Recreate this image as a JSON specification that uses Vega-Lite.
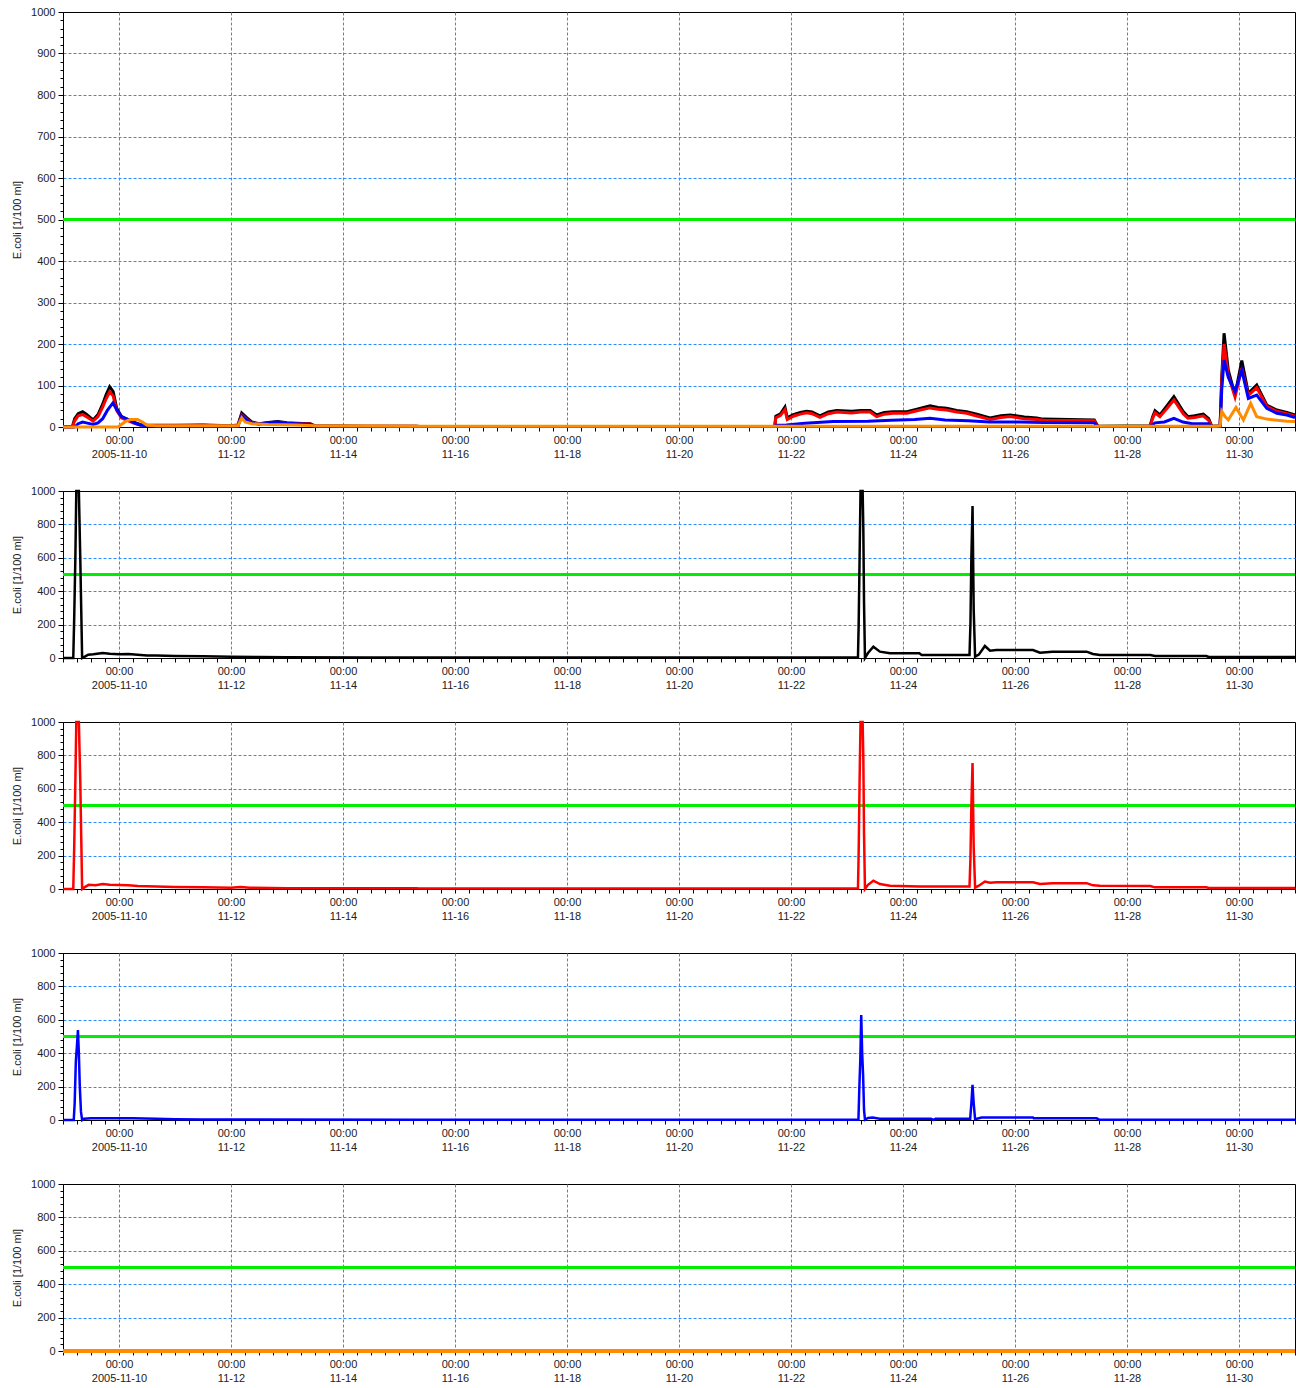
{
"$schema": "https://vega.github.io/schema/vega-lite/v6.json",
"padding": {"left": 11, "top": 5, "right": 0, "bottom": 0},
"spacing": 24,
"config": {
  "view": {"stroke": "#000000", "strokeWidth": 1}
},
"datasets": {
"lim": [{"y": 500}],
"p1": [
{"h":0,"s":"A","v":1},{"h":4,"s":"A","v":1},{"h":5,"s":"A","v":20},{"h":6.5,"s":"A","v":32},{"h":8.4,"s":"A","v":37},{"h":10,"s":"A","v":31},{"h":12.9,"s":"A","v":17},{"h":15,"s":"A","v":30},{"h":17,"s":"A","v":55},{"h":18.5,"s":"A","v":78},{"h":20,"s":"A","v":97},{"h":21.5,"s":"A","v":85},{"h":23,"s":"A","v":45},{"h":25,"s":"A","v":26},{"h":27,"s":"A","v":20},{"h":30,"s":"A","v":12},{"h":33,"s":"A","v":6},{"h":36,"s":"A","v":5},{"h":48,"s":"A","v":4},{"h":60,"s":"A","v":5},{"h":72,"s":"A","v":3},{"h":75,"s":"A","v":5},{"h":76.6,"s":"A","v":34},{"h":78.5,"s":"A","v":24},{"h":81,"s":"A","v":12},{"h":84,"s":"A","v":8},{"h":88,"s":"A","v":11},{"h":92,"s":"A","v":13},{"h":96,"s":"A","v":10},{"h":100,"s":"A","v":9},{"h":106,"s":"A","v":8},{"h":108,"s":"A","v":3},{"h":130,"s":"A","v":2},{"h":151.3,"s":"A","v":2},{"h":152.8,"s":"A","v":1},{"h":200,"s":"A","v":1},{"h":260,"s":"A","v":1},{"h":305,"s":"A","v":1},{"h":305.5,"s":"A","v":26},{"h":307.5,"s":"A","v":32},{"h":309.4,"s":"A","v":48},{"h":310.4,"s":"A","v":22},{"h":313,"s":"A","v":30},{"h":316,"s":"A","v":35},{"h":318.7,"s":"A","v":38},{"h":321,"s":"A","v":36},{"h":324.4,"s":"A","v":27},{"h":328,"s":"A","v":36},{"h":331.6,"s":"A","v":40},{"h":338,"s":"A","v":38},{"h":342,"s":"A","v":40},{"h":345.9,"s":"A","v":40},{"h":348.7,"s":"A","v":29},{"h":352,"s":"A","v":35},{"h":355.7,"s":"A","v":37},{"h":361.7,"s":"A","v":37},{"h":366,"s":"A","v":43},{"h":371.6,"s":"A","v":51},{"h":375,"s":"A","v":47},{"h":378.7,"s":"A","v":45},{"h":383,"s":"A","v":40},{"h":387.3,"s":"A","v":37},{"h":392,"s":"A","v":30},{"h":397.3,"s":"A","v":22},{"h":402,"s":"A","v":27},{"h":405.9,"s":"A","v":29},{"h":412,"s":"A","v":24},{"h":417.3,"s":"A","v":22},{"h":420,"s":"A","v":19},{"h":442,"s":"A","v":17},{"h":443.5,"s":"A","v":2},{"h":465.9,"s":"A","v":3},{"h":467,"s":"A","v":25},{"h":468,"s":"A","v":39},{"h":470.1,"s":"A","v":29},{"h":473,"s":"A","v":50},{"h":476.1,"s":"A","v":73},{"h":480.1,"s":"A","v":37},{"h":482.1,"s":"A","v":25},{"h":485,"s":"A","v":27},{"h":488.7,"s":"A","v":31},{"h":491,"s":"A","v":20},{"h":492.3,"s":"A","v":2},{"h":495.9,"s":"A","v":3},{"h":496.6,"s":"A","v":120},{"h":497.6,"s":"A","v":226},{"h":499.4,"s":"A","v":137},{"h":502.3,"s":"A","v":77},{"h":505.2,"s":"A","v":160},{"h":508,"s":"A","v":81},{"h":511.6,"s":"A","v":101},{"h":515.9,"s":"A","v":53},{"h":520.2,"s":"A","v":41},{"h":524.5,"s":"A","v":35},{"h":528,"s":"A","v":29},
{"h":0,"s":"B","v":0},{"h":4,"s":"B","v":0},{"h":5,"s":"B","v":15},{"h":6.5,"s":"B","v":27},{"h":8.4,"s":"B","v":30},{"h":10,"s":"B","v":25},{"h":12.9,"s":"B","v":14},{"h":15,"s":"B","v":25},{"h":17,"s":"B","v":48},{"h":18.5,"s":"B","v":68},{"h":20,"s":"B","v":85},{"h":21.5,"s":"B","v":75},{"h":23,"s":"B","v":40},{"h":25,"s":"B","v":22},{"h":27,"s":"B","v":17},{"h":30,"s":"B","v":10},{"h":33,"s":"B","v":5},{"h":36,"s":"B","v":4},{"h":48,"s":"B","v":3},{"h":60,"s":"B","v":4},{"h":72,"s":"B","v":2},{"h":75,"s":"B","v":4},{"h":76.6,"s":"B","v":29},{"h":78.5,"s":"B","v":20},{"h":81,"s":"B","v":10},{"h":84,"s":"B","v":7},{"h":88,"s":"B","v":9},{"h":92,"s":"B","v":11},{"h":96,"s":"B","v":9},{"h":100,"s":"B","v":8},{"h":106,"s":"B","v":7},{"h":108,"s":"B","v":2},{"h":130,"s":"B","v":2},{"h":151.3,"s":"B","v":2},{"h":152.8,"s":"B","v":1},{"h":305,"s":"B","v":1},{"h":305.5,"s":"B","v":22},{"h":307.5,"s":"B","v":28},{"h":309.4,"s":"B","v":42},{"h":310.4,"s":"B","v":18},{"h":313,"s":"B","v":26},{"h":316,"s":"B","v":31},{"h":318.7,"s":"B","v":34},{"h":321,"s":"B","v":32},{"h":324.4,"s":"B","v":23},{"h":328,"s":"B","v":32},{"h":331.6,"s":"B","v":36},{"h":338,"s":"B","v":34},{"h":342,"s":"B","v":36},{"h":345.9,"s":"B","v":36},{"h":348.7,"s":"B","v":25},{"h":352,"s":"B","v":31},{"h":355.7,"s":"B","v":33},{"h":361.7,"s":"B","v":33},{"h":366,"s":"B","v":39},{"h":371.6,"s":"B","v":46},{"h":375,"s":"B","v":43},{"h":378.7,"s":"B","v":41},{"h":383,"s":"B","v":36},{"h":387.3,"s":"B","v":33},{"h":392,"s":"B","v":26},{"h":397.3,"s":"B","v":18},{"h":402,"s":"B","v":23},{"h":405.9,"s":"B","v":25},{"h":412,"s":"B","v":20},{"h":417.3,"s":"B","v":18},{"h":420,"s":"B","v":16},{"h":442,"s":"B","v":15},{"h":443.5,"s":"B","v":1},{"h":465.9,"s":"B","v":1},{"h":467,"s":"B","v":21},{"h":468,"s":"B","v":34},{"h":470.1,"s":"B","v":25},{"h":473,"s":"B","v":44},{"h":476.1,"s":"B","v":65},{"h":480.1,"s":"B","v":32},{"h":482.1,"s":"B","v":21},{"h":485,"s":"B","v":23},{"h":488.7,"s":"B","v":27},{"h":491,"s":"B","v":16},{"h":492.3,"s":"B","v":1},{"h":495.9,"s":"B","v":2},{"h":496.6,"s":"B","v":110},{"h":497.6,"s":"B","v":200},{"h":499.4,"s":"B","v":125},{"h":502.3,"s":"B","v":72},{"h":505.2,"s":"B","v":142},{"h":508,"s":"B","v":76},{"h":511.6,"s":"B","v":95},{"h":515.9,"s":"B","v":50},{"h":520.2,"s":"B","v":38},{"h":524.5,"s":"B","v":32},{"h":528,"s":"B","v":26},
{"h":0,"s":"C","v":0},{"h":5,"s":"C","v":0},{"h":6.5,"s":"C","v":8},{"h":8.4,"s":"C","v":12},{"h":10,"s":"C","v":10},{"h":12.9,"s":"C","v":6},{"h":15,"s":"C","v":10},{"h":17,"s":"C","v":20},{"h":19,"s":"C","v":40},{"h":21.4,"s":"C","v":58},{"h":23,"s":"C","v":42},{"h":25,"s":"C","v":25},{"h":27,"s":"C","v":20},{"h":29,"s":"C","v":15},{"h":31,"s":"C","v":9},{"h":33,"s":"C","v":5},{"h":36,"s":"C","v":3},{"h":48,"s":"C","v":2},{"h":72,"s":"C","v":2},{"h":75,"s":"C","v":3},{"h":76.6,"s":"C","v":27},{"h":78.5,"s":"C","v":18},{"h":81,"s":"C","v":9},{"h":84,"s":"C","v":7},{"h":88,"s":"C","v":10},{"h":92,"s":"C","v":12},{"h":96,"s":"C","v":9},{"h":100,"s":"C","v":8},{"h":106,"s":"C","v":6},{"h":108,"s":"C","v":2},{"h":151.3,"s":"C","v":1},{"h":152.8,"s":"C","v":1},{"h":305,"s":"C","v":1},{"h":305.5,"s":"C","v":4},{"h":310,"s":"C","v":5},{"h":318,"s":"C","v":9},{"h":330,"s":"C","v":13},{"h":345,"s":"C","v":14},{"h":355,"s":"C","v":16},{"h":365,"s":"C","v":18},{"h":371.6,"s":"C","v":21},{"h":378,"s":"C","v":17},{"h":388,"s":"C","v":15},{"h":397,"s":"C","v":12},{"h":410,"s":"C","v":12},{"h":420,"s":"C","v":11},{"h":442,"s":"C","v":10},{"h":443.5,"s":"C","v":1},{"h":465.9,"s":"C","v":1},{"h":468,"s":"C","v":10},{"h":472,"s":"C","v":12},{"h":476.1,"s":"C","v":21},{"h":480,"s":"C","v":12},{"h":484,"s":"C","v":8},{"h":491,"s":"C","v":8},{"h":492.3,"s":"C","v":1},{"h":495.9,"s":"C","v":1},{"h":496.6,"s":"C","v":90},{"h":497.6,"s":"C","v":161},{"h":499.4,"s":"C","v":120},{"h":502.3,"s":"C","v":85},{"h":505.2,"s":"C","v":137},{"h":508,"s":"C","v":69},{"h":511.6,"s":"C","v":77},{"h":515.9,"s":"C","v":45},{"h":520.2,"s":"C","v":33},{"h":524.5,"s":"C","v":29},{"h":528,"s":"C","v":23},
{"h":0,"s":"D","v":0},{"h":23.6,"s":"D","v":0},{"h":25,"s":"D","v":6},{"h":27,"s":"D","v":14},{"h":29,"s":"D","v":18},{"h":32,"s":"D","v":18},{"h":34,"s":"D","v":12},{"h":36,"s":"D","v":4},{"h":40,"s":"D","v":3},{"h":75,"s":"D","v":3},{"h":76.6,"s":"D","v":22},{"h":78,"s":"D","v":12},{"h":81,"s":"D","v":8},{"h":88,"s":"D","v":6},{"h":100,"s":"D","v":5},{"h":108,"s":"D","v":3},{"h":151.3,"s":"D","v":2},{"h":152.8,"s":"D","v":2},{"h":494,"s":"D","v":2},{"h":495.9,"s":"D","v":3},{"h":496.6,"s":"D","v":38},{"h":498,"s":"D","v":25},{"h":499.4,"s":"D","v":17},{"h":502.7,"s":"D","v":47},{"h":505.9,"s":"D","v":17},{"h":509,"s":"D","v":57},{"h":511.6,"s":"D","v":25},{"h":515.9,"s":"D","v":19},{"h":524.5,"s":"D","v":14},{"h":528,"s":"D","v":13}
],
"p2": [
{"h":0,"v":0},{"h":4.4,"v":0},{"h":4.8,"v":240},{"h":5.3,"v":600},{"h":5.7,"v":3000},{"h":6.3,"v":1500},{"h":6.8,"v":3000},{"h":7.4,"v":600},{"h":7.8,"v":300},{"h":8.2,"v":0},{"h":9,"v":5},{"h":10.8,"v":20},{"h":13,"v":22},{"h":17,"v":30},{"h":20,"v":25},{"h":24,"v":22},{"h":28,"v":24},{"h":32,"v":20},{"h":36,"v":15},{"h":40,"v":15},{"h":48,"v":12},{"h":60,"v":10},{"h":72,"v":8},{"h":84,"v":6},{"h":96,"v":4},{"h":130,"v":3},{"h":340.7,"v":3},{"h":341,"v":200},{"h":341.4,"v":600},{"h":341.8,"v":3000},{"h":342.3,"v":1500},{"h":342.7,"v":3000},{"h":343,"v":770},{"h":343.3,"v":330},{"h":343.7,"v":0},{"h":345,"v":30},{"h":347.3,"v":68},{"h":350.1,"v":38},{"h":354.4,"v":28},{"h":367,"v":28},{"h":368,"v":18},{"h":388.5,"v":18},{"h":388.9,"v":200},{"h":389.3,"v":600},{"h":389.8,"v":910},{"h":390.3,"v":288},{"h":390.9,"v":8},{"h":392.5,"v":20},{"h":395.1,"v":72},{"h":397.3,"v":44},{"h":400,"v":48},{"h":415.7,"v":48},{"h":418.7,"v":32},{"h":424,"v":38},{"h":438.7,"v":38},{"h":441.4,"v":24},{"h":444.4,"v":18},{"h":466,"v":18},{"h":468,"v":12},{"h":490,"v":12},{"h":491,"v":6},{"h":528,"v":6}
],
"p3": [
{"h":0,"v":0},{"h":4.4,"v":0},{"h":4.8,"v":250},{"h":5.3,"v":650},{"h":5.7,"v":3000},{"h":6.3,"v":1600},{"h":6.8,"v":3000},{"h":7.4,"v":650},{"h":7.8,"v":320},{"h":8.2,"v":0},{"h":9,"v":8},{"h":11,"v":25},{"h":14,"v":22},{"h":17,"v":30},{"h":20,"v":26},{"h":24,"v":24},{"h":28,"v":22},{"h":32,"v":18},{"h":40,"v":15},{"h":48,"v":12},{"h":60,"v":10},{"h":72,"v":8},{"h":76,"v":12},{"h":80,"v":8},{"h":96,"v":5},{"h":130,"v":4},{"h":151.3,"v":4},{"h":152.8,"v":3},{"h":340.7,"v":3},{"h":341,"v":220},{"h":341.4,"v":650},{"h":341.8,"v":3000},{"h":342.3,"v":1600},{"h":342.7,"v":3000},{"h":343,"v":780},{"h":343.3,"v":330},{"h":343.7,"v":0},{"h":345,"v":25},{"h":347.3,"v":50},{"h":350.1,"v":30},{"h":354.4,"v":20},{"h":367,"v":15},{"h":388.5,"v":15},{"h":388.9,"v":180},{"h":389.3,"v":500},{"h":389.8,"v":755},{"h":390.3,"v":250},{"h":390.9,"v":8},{"h":392.5,"v":20},{"h":395.1,"v":45},{"h":397.3,"v":38},{"h":400,"v":40},{"h":415.7,"v":40},{"h":418.7,"v":30},{"h":424,"v":35},{"h":438.7,"v":35},{"h":441.4,"v":22},{"h":444.4,"v":20},{"h":466,"v":18},{"h":468,"v":10},{"h":490,"v":10},{"h":491,"v":6},{"h":528,"v":6}
],
"p4": [
{"h":0,"v":0},{"h":4.6,"v":0},{"h":5,"v":100},{"h":5.5,"v":350},{"h":6,"v":450},{"h":6.4,"v":539},{"h":6.8,"v":400},{"h":7.2,"v":200},{"h":7.7,"v":50},{"h":8.2,"v":0},{"h":9,"v":8},{"h":12,"v":10},{"h":30,"v":10},{"h":40,"v":8},{"h":48,"v":5},{"h":60,"v":3},{"h":151.3,"v":2},{"h":152.8,"v":2},{"h":340.9,"v":2},{"h":341.3,"v":200},{"h":341.7,"v":359},{"h":342.1,"v":629},{"h":342.5,"v":400},{"h":342.9,"v":270},{"h":343.3,"v":60},{"h":343.7,"v":2},{"h":345,"v":12},{"h":347,"v":15},{"h":350,"v":8},{"h":372,"v":8},{"h":373,"v":1},{"h":374,"v":8},{"h":388.8,"v":8},{"h":389.3,"v":100},{"h":389.8,"v":210},{"h":390.3,"v":100},{"h":390.9,"v":5},{"h":393.7,"v":15},{"h":415.7,"v":15},{"h":416,"v":10},{"h":443,"v":10},{"h":444,"v":2},{"h":528,"v":2}
],
"p5": [
{"h":0,"v":0},{"h":151.3,"v":0},{"h":152.8,"v":0},{"h":528,"v":0}
]
},
"vconcat": [
{
 "width": 1232, "height": 415,
 "layer": [
  {"data": {"name": "lim"}, "mark": {"type": "rule", "color": "#00ee00", "strokeWidth": 3},
   "encoding": {"y": {"field": "y", "type": "quantitative", "title": "E.coli [1/100 ml]", "scale": {"domain": [0, 1000], "nice": false, "clamp": true},
     "axis": {"title": "E.coli [1/100 ml]", "values": [0,20,40,60,80,100,120,140,160,180,200,220,240,260,280,300,320,340,360,380,400,420,440,460,480,500,520,540,560,580,600,620,640,660,680,700,720,740,760,780,800,820,840,860,880,900,920,940,960,980,1000], "labelExpr": "datum.value % 100 === 0 ? format(datum.value, 'd') : ''", "labelFlush": false, "labelOverlap": false, "tickSize": {"condition": {"test": "datum.value % 100 === 0", "value": 5}, "value": 3}, "tickColor": "#000000", "domainColor": "#000000", "labelPadding": 3, "labelFont": "Liberation Sans", "labelFontSize": 11, "labelColor": "#222222", "titleFont": "Liberation Sans", "titleFontSize": 11, "titleFontWeight": "normal", "titleColor": "#222222", "titlePadding": 8, "gridColor": "#2b8cff", "gridDash": [3, 2], "gridOpacity": {"condition": {"test": "datum.value % 100 === 0 && datum.value > 0 && datum.value < 1000", "value": 1}, "value": 0}}}}},
  {"data": {"name": "p1"}, "mark": {"type": "line", "strokeWidth": 3},
   "encoding": {
    "x": {"field": "h", "type": "quantitative", "scale": {"domain": [0, 528], "nice": false, "zero": false},
          "axis": {"title": null, "values": [0,6,12,18,24,30,36,42,48,54,60,66,72,78,84,90,96,102,108,114,120,126,132,138,144,150,156,162,168,174,180,186,192,198,204,210,216,222,228,234,240,246,252,258,264,270,276,282,288,294,300,306,312,318,324,330,336,342,348,354,360,366,372,378,384,390,396,402,408,414,420,426,432,438,444,450,456,462,468,474,480,486,492,498,504,510,516,522,528], "labelExpr": "datum.value % 48 === 24 ? ['00:00', datum.value === 24 ? '2005-11-10' : '11-' + (9 + datum.value / 24)] : ''", "labelOverlap": false, "labelFlush": false, "tickSize": 4, "tickColor": "#000000", "domainColor": "#000000", "labelPadding": 3, "labelLineHeight": 14, "labelFont": "Liberation Sans", "labelFontSize": 11, "labelColor": "#222222", "gridColor": "#2b8cff", "gridDash": [3, 2], "gridOpacity": {"condition": {"test": "datum.value % 48 === 24", "value": 1}, "value": 0}}},
    "y": {"field": "v", "type": "quantitative", "title": "E.coli [1/100 ml]", "scale": {"domain": [0, 1000], "nice": false, "clamp": true},
          "axis": {"title": "E.coli [1/100 ml]", "values": [0,20,40,60,80,100,120,140,160,180,200,220,240,260,280,300,320,340,360,380,400,420,440,460,480,500,520,540,560,580,600,620,640,660,680,700,720,740,760,780,800,820,840,860,880,900,920,940,960,980,1000], "labelExpr": "datum.value % 100 === 0 ? format(datum.value, 'd') : ''", "labelFlush": false, "labelOverlap": false, "tickSize": {"condition": {"test": "datum.value % 100 === 0", "value": 5}, "value": 3}, "tickColor": "#000000", "domainColor": "#000000", "labelPadding": 3, "labelFont": "Liberation Sans", "labelFontSize": 11, "labelColor": "#222222", "titleFont": "Liberation Sans", "titleFontSize": 11, "titleFontWeight": "normal", "titleColor": "#222222", "titlePadding": 8, "gridColor": "#2b8cff", "gridDash": [3, 2], "gridOpacity": {"condition": {"test": "datum.value % 100 === 0 && datum.value > 0 && datum.value < 1000", "value": 1}, "value": 0}}},
    "color": {"field": "s", "type": "nominal", "scale": {"domain": ["A", "B", "C", "D"], "range": ["#000000", "#ff0000", "#0000ff", "#ff8c00"]}, "legend": null},
    "size": {"field": "s", "type": "nominal", "scale": {"domain": ["A", "B", "C", "D"], "range": [3, 3, 3, 4]}, "legend": null}
   }}
 ]
},
{
 "width": 1232, "height": 167,
 "layer": [
  {"data": {"name": "lim"}, "mark": {"type": "rule", "color": "#00ee00", "strokeWidth": 3},
   "encoding": {"y": {"field": "y", "type": "quantitative", "title": "E.coli [1/100 ml]", "scale": {"domain": [0, 1000], "nice": false, "clamp": true},
     "axis": {"title": "E.coli [1/100 ml]", "values": [0,40,80,120,160,200,240,280,320,360,400,440,480,520,560,600,640,680,720,760,800,840,880,920,960,1000], "labelExpr": "datum.value % 200 === 0 ? format(datum.value, 'd') : ''", "labelFlush": false, "labelOverlap": false, "tickSize": {"condition": {"test": "datum.value % 200 === 0", "value": 5}, "value": 3}, "tickColor": "#000000", "domainColor": "#000000", "labelPadding": 3, "labelFont": "Liberation Sans", "labelFontSize": 11, "labelColor": "#222222", "titleFont": "Liberation Sans", "titleFontSize": 11, "titleFontWeight": "normal", "titleColor": "#222222", "titlePadding": 8, "gridColor": "#2b8cff", "gridDash": [3, 2], "gridOpacity": {"condition": {"test": "datum.value % 200 === 0 && datum.value > 0 && datum.value < 1000", "value": 1}, "value": 0}}}}},
  {"data": {"name": "p2"}, "mark": {"type": "line", "strokeWidth": 2.5, "color": "#000000"},
   "encoding": {
    "x": {"field": "h", "type": "quantitative", "scale": {"domain": [0, 528], "nice": false, "zero": false},
          "axis": {"title": null, "values": [0,6,12,18,24,30,36,42,48,54,60,66,72,78,84,90,96,102,108,114,120,126,132,138,144,150,156,162,168,174,180,186,192,198,204,210,216,222,228,234,240,246,252,258,264,270,276,282,288,294,300,306,312,318,324,330,336,342,348,354,360,366,372,378,384,390,396,402,408,414,420,426,432,438,444,450,456,462,468,474,480,486,492,498,504,510,516,522,528], "labelExpr": "datum.value % 48 === 24 ? ['00:00', datum.value === 24 ? '2005-11-10' : '11-' + (9 + datum.value / 24)] : ''", "labelOverlap": false, "labelFlush": false, "tickSize": 4, "tickColor": "#000000", "domainColor": "#000000", "labelPadding": 3, "labelLineHeight": 14, "labelFont": "Liberation Sans", "labelFontSize": 11, "labelColor": "#222222", "gridColor": "#2b8cff", "gridDash": [3, 2], "gridOpacity": {"condition": {"test": "datum.value % 48 === 24", "value": 1}, "value": 0}}},
    "y": {"field": "v", "type": "quantitative", "title": "E.coli [1/100 ml]", "scale": {"domain": [0, 1000], "nice": false, "clamp": true},
          "axis": {"title": "E.coli [1/100 ml]", "values": [0,40,80,120,160,200,240,280,320,360,400,440,480,520,560,600,640,680,720,760,800,840,880,920,960,1000], "labelExpr": "datum.value % 200 === 0 ? format(datum.value, 'd') : ''", "labelFlush": false, "labelOverlap": false, "tickSize": {"condition": {"test": "datum.value % 200 === 0", "value": 5}, "value": 3}, "tickColor": "#000000", "domainColor": "#000000", "labelPadding": 3, "labelFont": "Liberation Sans", "labelFontSize": 11, "labelColor": "#222222", "titleFont": "Liberation Sans", "titleFontSize": 11, "titleFontWeight": "normal", "titleColor": "#222222", "titlePadding": 8, "gridColor": "#2b8cff", "gridDash": [3, 2], "gridOpacity": {"condition": {"test": "datum.value % 200 === 0 && datum.value > 0 && datum.value < 1000", "value": 1}, "value": 0}}}
   }}
 ]
},
{
 "width": 1232, "height": 167,
 "layer": [
  {"data": {"name": "lim"}, "mark": {"type": "rule", "color": "#00ee00", "strokeWidth": 3},
   "encoding": {"y": {"field": "y", "type": "quantitative", "title": "E.coli [1/100 ml]", "scale": {"domain": [0, 1000], "nice": false, "clamp": true},
     "axis": {"title": "E.coli [1/100 ml]", "values": [0,40,80,120,160,200,240,280,320,360,400,440,480,520,560,600,640,680,720,760,800,840,880,920,960,1000], "labelExpr": "datum.value % 200 === 0 ? format(datum.value, 'd') : ''", "labelFlush": false, "labelOverlap": false, "tickSize": {"condition": {"test": "datum.value % 200 === 0", "value": 5}, "value": 3}, "tickColor": "#000000", "domainColor": "#000000", "labelPadding": 3, "labelFont": "Liberation Sans", "labelFontSize": 11, "labelColor": "#222222", "titleFont": "Liberation Sans", "titleFontSize": 11, "titleFontWeight": "normal", "titleColor": "#222222", "titlePadding": 8, "gridColor": "#2b8cff", "gridDash": [3, 2], "gridOpacity": {"condition": {"test": "datum.value % 200 === 0 && datum.value > 0 && datum.value < 1000", "value": 1}, "value": 0}}}}},
  {"data": {"name": "p3"}, "mark": {"type": "line", "strokeWidth": 2.5, "color": "#ff0000"},
   "encoding": {
    "x": {"field": "h", "type": "quantitative", "scale": {"domain": [0, 528], "nice": false, "zero": false},
          "axis": {"title": null, "values": [0,6,12,18,24,30,36,42,48,54,60,66,72,78,84,90,96,102,108,114,120,126,132,138,144,150,156,162,168,174,180,186,192,198,204,210,216,222,228,234,240,246,252,258,264,270,276,282,288,294,300,306,312,318,324,330,336,342,348,354,360,366,372,378,384,390,396,402,408,414,420,426,432,438,444,450,456,462,468,474,480,486,492,498,504,510,516,522,528], "labelExpr": "datum.value % 48 === 24 ? ['00:00', datum.value === 24 ? '2005-11-10' : '11-' + (9 + datum.value / 24)] : ''", "labelOverlap": false, "labelFlush": false, "tickSize": 4, "tickColor": "#000000", "domainColor": "#000000", "labelPadding": 3, "labelLineHeight": 14, "labelFont": "Liberation Sans", "labelFontSize": 11, "labelColor": "#222222", "gridColor": "#2b8cff", "gridDash": [3, 2], "gridOpacity": {"condition": {"test": "datum.value % 48 === 24", "value": 1}, "value": 0}}},
    "y": {"field": "v", "type": "quantitative", "title": "E.coli [1/100 ml]", "scale": {"domain": [0, 1000], "nice": false, "clamp": true},
          "axis": {"title": "E.coli [1/100 ml]", "values": [0,40,80,120,160,200,240,280,320,360,400,440,480,520,560,600,640,680,720,760,800,840,880,920,960,1000], "labelExpr": "datum.value % 200 === 0 ? format(datum.value, 'd') : ''", "labelFlush": false, "labelOverlap": false, "tickSize": {"condition": {"test": "datum.value % 200 === 0", "value": 5}, "value": 3}, "tickColor": "#000000", "domainColor": "#000000", "labelPadding": 3, "labelFont": "Liberation Sans", "labelFontSize": 11, "labelColor": "#222222", "titleFont": "Liberation Sans", "titleFontSize": 11, "titleFontWeight": "normal", "titleColor": "#222222", "titlePadding": 8, "gridColor": "#2b8cff", "gridDash": [3, 2], "gridOpacity": {"condition": {"test": "datum.value % 200 === 0 && datum.value > 0 && datum.value < 1000", "value": 1}, "value": 0}}}
   }}
 ]
},
{
 "width": 1232, "height": 167,
 "layer": [
  {"data": {"name": "lim"}, "mark": {"type": "rule", "color": "#00ee00", "strokeWidth": 3},
   "encoding": {"y": {"field": "y", "type": "quantitative", "title": "E.coli [1/100 ml]", "scale": {"domain": [0, 1000], "nice": false, "clamp": true},
     "axis": {"title": "E.coli [1/100 ml]", "values": [0,40,80,120,160,200,240,280,320,360,400,440,480,520,560,600,640,680,720,760,800,840,880,920,960,1000], "labelExpr": "datum.value % 200 === 0 ? format(datum.value, 'd') : ''", "labelFlush": false, "labelOverlap": false, "tickSize": {"condition": {"test": "datum.value % 200 === 0", "value": 5}, "value": 3}, "tickColor": "#000000", "domainColor": "#000000", "labelPadding": 3, "labelFont": "Liberation Sans", "labelFontSize": 11, "labelColor": "#222222", "titleFont": "Liberation Sans", "titleFontSize": 11, "titleFontWeight": "normal", "titleColor": "#222222", "titlePadding": 8, "gridColor": "#2b8cff", "gridDash": [3, 2], "gridOpacity": {"condition": {"test": "datum.value % 200 === 0 && datum.value > 0 && datum.value < 1000", "value": 1}, "value": 0}}}}},
  {"data": {"name": "p4"}, "mark": {"type": "line", "strokeWidth": 2.5, "color": "#0000ff"},
   "encoding": {
    "x": {"field": "h", "type": "quantitative", "scale": {"domain": [0, 528], "nice": false, "zero": false},
          "axis": {"title": null, "values": [0,6,12,18,24,30,36,42,48,54,60,66,72,78,84,90,96,102,108,114,120,126,132,138,144,150,156,162,168,174,180,186,192,198,204,210,216,222,228,234,240,246,252,258,264,270,276,282,288,294,300,306,312,318,324,330,336,342,348,354,360,366,372,378,384,390,396,402,408,414,420,426,432,438,444,450,456,462,468,474,480,486,492,498,504,510,516,522,528], "labelExpr": "datum.value % 48 === 24 ? ['00:00', datum.value === 24 ? '2005-11-10' : '11-' + (9 + datum.value / 24)] : ''", "labelOverlap": false, "labelFlush": false, "tickSize": 4, "tickColor": "#000000", "domainColor": "#000000", "labelPadding": 3, "labelLineHeight": 14, "labelFont": "Liberation Sans", "labelFontSize": 11, "labelColor": "#222222", "gridColor": "#2b8cff", "gridDash": [3, 2], "gridOpacity": {"condition": {"test": "datum.value % 48 === 24", "value": 1}, "value": 0}}},
    "y": {"field": "v", "type": "quantitative", "title": "E.coli [1/100 ml]", "scale": {"domain": [0, 1000], "nice": false, "clamp": true},
          "axis": {"title": "E.coli [1/100 ml]", "values": [0,40,80,120,160,200,240,280,320,360,400,440,480,520,560,600,640,680,720,760,800,840,880,920,960,1000], "labelExpr": "datum.value % 200 === 0 ? format(datum.value, 'd') : ''", "labelFlush": false, "labelOverlap": false, "tickSize": {"condition": {"test": "datum.value % 200 === 0", "value": 5}, "value": 3}, "tickColor": "#000000", "domainColor": "#000000", "labelPadding": 3, "labelFont": "Liberation Sans", "labelFontSize": 11, "labelColor": "#222222", "titleFont": "Liberation Sans", "titleFontSize": 11, "titleFontWeight": "normal", "titleColor": "#222222", "titlePadding": 8, "gridColor": "#2b8cff", "gridDash": [3, 2], "gridOpacity": {"condition": {"test": "datum.value % 200 === 0 && datum.value > 0 && datum.value < 1000", "value": 1}, "value": 0}}}
   }}
 ]
},
{
 "width": 1232, "height": 167,
 "layer": [
  {"data": {"name": "lim"}, "mark": {"type": "rule", "color": "#00ee00", "strokeWidth": 3},
   "encoding": {"y": {"field": "y", "type": "quantitative", "title": "E.coli [1/100 ml]", "scale": {"domain": [0, 1000], "nice": false, "clamp": true},
     "axis": {"title": "E.coli [1/100 ml]", "values": [0,40,80,120,160,200,240,280,320,360,400,440,480,520,560,600,640,680,720,760,800,840,880,920,960,1000], "labelExpr": "datum.value % 200 === 0 ? format(datum.value, 'd') : ''", "labelFlush": false, "labelOverlap": false, "tickSize": {"condition": {"test": "datum.value % 200 === 0", "value": 5}, "value": 3}, "tickColor": "#000000", "domainColor": "#000000", "labelPadding": 3, "labelFont": "Liberation Sans", "labelFontSize": 11, "labelColor": "#222222", "titleFont": "Liberation Sans", "titleFontSize": 11, "titleFontWeight": "normal", "titleColor": "#222222", "titlePadding": 8, "gridColor": "#2b8cff", "gridDash": [3, 2], "gridOpacity": {"condition": {"test": "datum.value % 200 === 0 && datum.value > 0 && datum.value < 1000", "value": 1}, "value": 0}}}}},
  {"data": {"name": "p5"}, "mark": {"type": "line", "strokeWidth": 4, "color": "#ff8c00"},
   "encoding": {
    "x": {"field": "h", "type": "quantitative", "scale": {"domain": [0, 528], "nice": false, "zero": false},
          "axis": {"title": null, "values": [0,6,12,18,24,30,36,42,48,54,60,66,72,78,84,90,96,102,108,114,120,126,132,138,144,150,156,162,168,174,180,186,192,198,204,210,216,222,228,234,240,246,252,258,264,270,276,282,288,294,300,306,312,318,324,330,336,342,348,354,360,366,372,378,384,390,396,402,408,414,420,426,432,438,444,450,456,462,468,474,480,486,492,498,504,510,516,522,528], "labelExpr": "datum.value % 48 === 24 ? ['00:00', datum.value === 24 ? '2005-11-10' : '11-' + (9 + datum.value / 24)] : ''", "labelOverlap": false, "labelFlush": false, "tickSize": 4, "tickColor": "#000000", "domainColor": "#000000", "labelPadding": 3, "labelLineHeight": 14, "labelFont": "Liberation Sans", "labelFontSize": 11, "labelColor": "#222222", "gridColor": "#2b8cff", "gridDash": [3, 2], "gridOpacity": {"condition": {"test": "datum.value % 48 === 24", "value": 1}, "value": 0}}},
    "y": {"field": "v", "type": "quantitative", "title": "E.coli [1/100 ml]", "scale": {"domain": [0, 1000], "nice": false, "clamp": true},
          "axis": {"title": "E.coli [1/100 ml]", "values": [0,40,80,120,160,200,240,280,320,360,400,440,480,520,560,600,640,680,720,760,800,840,880,920,960,1000], "labelExpr": "datum.value % 200 === 0 ? format(datum.value, 'd') : ''", "labelFlush": false, "labelOverlap": false, "tickSize": {"condition": {"test": "datum.value % 200 === 0", "value": 5}, "value": 3}, "tickColor": "#000000", "domainColor": "#000000", "labelPadding": 3, "labelFont": "Liberation Sans", "labelFontSize": 11, "labelColor": "#222222", "titleFont": "Liberation Sans", "titleFontSize": 11, "titleFontWeight": "normal", "titleColor": "#222222", "titlePadding": 8, "gridColor": "#2b8cff", "gridDash": [3, 2], "gridOpacity": {"condition": {"test": "datum.value % 200 === 0 && datum.value > 0 && datum.value < 1000", "value": 1}, "value": 0}}}
   }}
 ]
}
]
}
